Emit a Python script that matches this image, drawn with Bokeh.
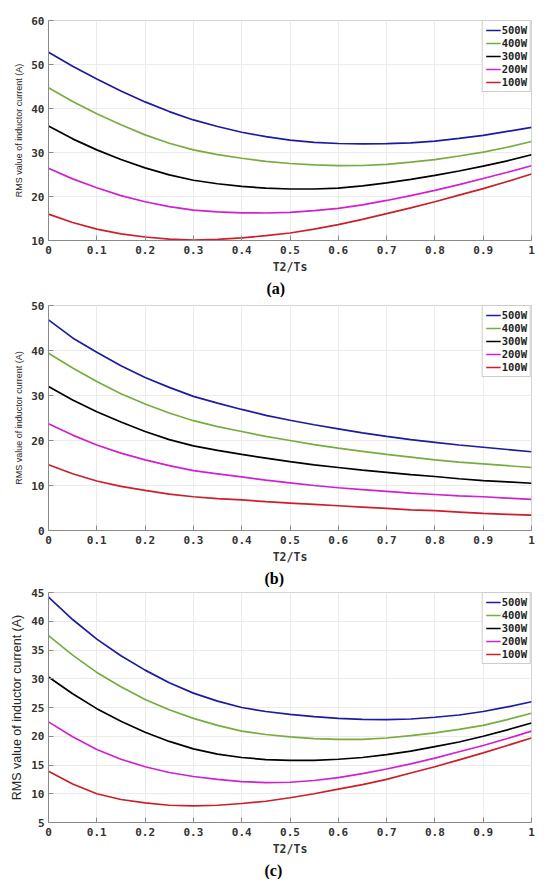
from bokeh.plotting import figure
from bokeh.models import FixedTicker, Legend, LegendItem, Title, Range1d
from bokeh.layouts import column
from bokeh.embed import file_html
from bokeh.resources import INLINE

# ---------------- data ----------------
t_ratio = [0.0, 0.05, 0.1, 0.15, 0.2, 0.25, 0.3, 0.35, 0.4, 0.45, 0.5,
           0.55, 0.6, 0.65, 0.7, 0.75, 0.8, 0.85, 0.9, 0.95, 1.0]
series_names = ["500W", "400W", "300W", "200W", "100W"]
series_colors = ["#1b1ba3", "#76ad3e", "#000000", "#d21fd2", "#cc1f29"]

x_ticks = [0, 0.1, 0.2, 0.3, 0.4, 0.5, 0.6, 0.7, 0.8, 0.9, 1]
x_tick_labels = ["0", "0.1", "0.2", "0.3", "0.4", "0.5", "0.6", "0.7", "0.8", "0.9", "1"]

# (a)
a_500 = [52.8, 49.6, 46.7, 44.0, 41.5, 39.3, 37.4, 35.9, 34.6, 33.6, 32.8,
         32.3, 32.05, 31.95, 32.0, 32.2, 32.6, 33.2, 33.9, 34.8, 35.7]
a_400 = [44.7, 41.6, 38.8, 36.3, 34.0, 32.1, 30.6, 29.5, 28.7, 28.0, 27.5,
         27.2, 27.0, 27.05, 27.3, 27.8, 28.4, 29.2, 30.1, 31.2, 32.5]
a_300 = [36.0, 33.1, 30.6, 28.4, 26.5, 24.9, 23.7, 22.9, 22.3, 21.9, 21.7,
         21.7, 21.9, 22.4, 23.1, 23.9, 24.8, 25.8, 26.9, 28.1, 29.5]
a_200 = [26.4, 24.0, 22.0, 20.2, 18.8, 17.7, 16.9, 16.5, 16.3, 16.25, 16.4,
         16.8, 17.3, 18.1, 19.1, 20.2, 21.4, 22.7, 24.1, 25.5, 27.0]
a_100 = [16.0, 14.1, 12.6, 11.5, 10.8, 10.3, 10.1, 10.25, 10.6, 11.1, 11.7,
         12.6, 13.6, 14.8, 16.1, 17.4, 18.8, 20.3, 21.8, 23.4, 25.1]
a_y_ticks = [10, 20, 30, 40, 50, 60]

# (b)
b_500 = [46.8, 42.8, 39.6, 36.6, 34.0, 31.8, 29.8, 28.3, 26.9, 25.6, 24.5,
         23.5, 22.6, 21.7, 20.9, 20.2, 19.6, 19.0, 18.5, 18.0, 17.5]
b_400 = [39.4, 36.1, 33.1, 30.4, 28.1, 26.1, 24.4, 23.1, 22.0, 20.9, 20.0,
         19.1, 18.3, 17.6, 16.9, 16.3, 15.7, 15.2, 14.8, 14.4, 14.0]
b_300 = [32.0, 29.0, 26.4, 24.1, 22.0, 20.2, 18.8, 17.8, 16.9, 16.1, 15.3,
         14.6, 14.0, 13.4, 12.9, 12.4, 12.0, 11.5, 11.1, 10.8, 10.5]
b_200 = [23.7, 21.2, 19.0, 17.2, 15.7, 14.4, 13.3, 12.6, 11.9, 11.2, 10.6,
         10.0, 9.5, 9.1, 8.7, 8.3, 8.0, 7.7, 7.5, 7.2, 6.9]
b_100 = [14.6, 12.6, 11.0, 9.8, 8.9, 8.1, 7.5, 7.1, 6.8, 6.4, 6.1,
         5.8, 5.5, 5.2, 4.9, 4.6, 4.4, 4.1, 3.8, 3.6, 3.4]
b_y_ticks = [0, 10, 20, 30, 40, 50]

# (c)
c_500 = [44.2, 40.3, 36.9, 34.0, 31.5, 29.3, 27.5, 26.1, 25.0, 24.3, 23.8,
         23.4, 23.1, 22.95, 22.9, 23.0, 23.3, 23.7, 24.3, 25.1, 26.0]
c_400 = [37.5, 34.1, 31.1, 28.6, 26.4, 24.6, 23.1, 21.9, 20.9, 20.3, 19.9,
         19.6, 19.45, 19.45, 19.7, 20.1, 20.6, 21.2, 21.9, 22.9, 24.0]
c_300 = [30.3, 27.4, 24.8, 22.6, 20.7, 19.1, 17.8, 16.9, 16.3, 15.95, 15.8,
         15.8, 16.0, 16.3, 16.8, 17.4, 18.2, 19.0, 20.0, 21.1, 22.3]
c_200 = [22.5, 19.9, 17.7, 16.0, 14.7, 13.7, 13.0, 12.5, 12.1, 11.95, 12.0,
         12.3, 12.8, 13.5, 14.3, 15.2, 16.2, 17.3, 18.4, 19.6, 20.9]
c_100 = [13.9, 11.7, 10.0, 9.0, 8.4, 8.0, 7.9, 8.0, 8.3, 8.7, 9.3,
         10.0, 10.8, 11.6, 12.5, 13.6, 14.7, 15.9, 17.1, 18.4, 19.7]
c_y_ticks = [5, 10, 15, 20, 25, 30, 35, 40, 45]

y_label = "RMS value of inductor current (A)"
x_label = "T2/Ts"

TICK_FONT = "DejaVu Sans Mono"


def make_fig(series, y_ticks, caption, height, top, left, right, ylabel_size, cap_offset):
    p = figure(width=541, height=height,
               x_range=Range1d(0, 1), y_range=Range1d(y_ticks[0], y_ticks[-1]),
               output_backend="svg", toolbar_location=None,
               min_border_left=left, min_border_right=right,
               min_border_top=top, min_border_bottom=20)
    p.outline_line_color = "#d4d4d4"
    p.outline_line_width = 1
    p.background_fill_color = "white"
    p.border_fill_color = "white"

    renderers = []
    for ys, col in zip(series, series_colors):
        r = p.line(t_ratio, ys, line_color=col, line_width=1.7)
        renderers.append(r)

    items = [LegendItem(label=n, renderers=[r]) for n, r in zip(series_names, renderers)]
    leg = Legend(items=items, location="top_right")
    leg.margin = 0
    leg.padding = 3
    leg.spacing = 1
    leg.glyph_width = 15
    leg.glyph_height = 12
    leg.label_height = 12
    leg.label_standoff = 1
    leg.label_text_font = TICK_FONT
    leg.label_text_font_style = "bold"
    leg.label_text_font_size = "10.5px"
    leg.label_text_color = "#1e1e1e"
    leg.border_line_color = "#9a9a9a"
    leg.border_line_width = 1
    leg.background_fill_alpha = 1.0
    p.add_layout(leg, "center")

    p.xaxis.ticker = FixedTicker(ticks=x_ticks)
    p.xaxis.major_label_overrides = {t: l for t, l in zip(x_ticks, x_tick_labels)}
    p.yaxis.ticker = FixedTicker(ticks=y_ticks)

    for ax in (p.xaxis[0], p.yaxis[0]):
        ax.axis_line_color = "#8a8a8a"
        ax.axis_line_width = 1
        ax.major_tick_line_color = "#8a8a8a"
        ax.major_tick_in = 5
        ax.major_tick_out = 0
        ax.minor_tick_line_color = None
        ax.major_label_text_font = TICK_FONT
        ax.major_label_text_font_style = "bold"
        ax.major_label_text_font_size = "11px"
        ax.major_label_text_color = "#333333"

    p.xaxis.major_label_standoff = 5
    p.yaxis.major_label_standoff = 4
    p.xaxis.axis_label = x_label
    p.xaxis.axis_label_text_font = TICK_FONT
    p.xaxis.axis_label_text_font_style = "bold"
    p.xaxis.axis_label_text_font_size = "11.5px"
    p.xaxis.axis_label_text_color = "#333333"
    p.xaxis.axis_label_standoff = 3

    p.yaxis.axis_label = y_label
    p.yaxis.axis_label_text_font = "Liberation Sans"
    p.yaxis.axis_label_text_font_style = "normal"
    p.yaxis.axis_label_text_font_size = ylabel_size
    p.yaxis.axis_label_text_color = "#262626"
    p.yaxis.axis_label_standoff = 4

    p.xgrid.grid_line_color = "#ebebeb"
    p.ygrid.grid_line_color = "#ebebeb"
    p.xgrid.ticker = FixedTicker(ticks=x_ticks)
    p.ygrid.ticker = FixedTicker(ticks=y_ticks)

    cap = Title(text=caption, align="left", offset=cap_offset,
                text_font="Liberation Serif", text_font_style="bold",
                text_font_size="16px", text_color="#000000", standoff=2)
    p.add_layout(cap, "below")
    return p


pa = make_fig([a_500, a_400, a_300, a_200, a_100], a_y_ticks, "(a)",
              297, 20, 46, 8, "9px", 218)
pb = make_fig([b_500, b_400, b_300, b_200, b_100], b_y_ticks, "(b)",
              290, 8, 48, 10, "9px", 216)
pc = make_fig([c_500, c_400, c_300, c_200, c_100], c_y_ticks, "(c)",
              292, 5, 48, 6, "12.5px", 216)

layout = column(pa, pb, pc, spacing=0)

with open("out.html", "w") as f:
    f.write(file_html(layout, INLINE))
